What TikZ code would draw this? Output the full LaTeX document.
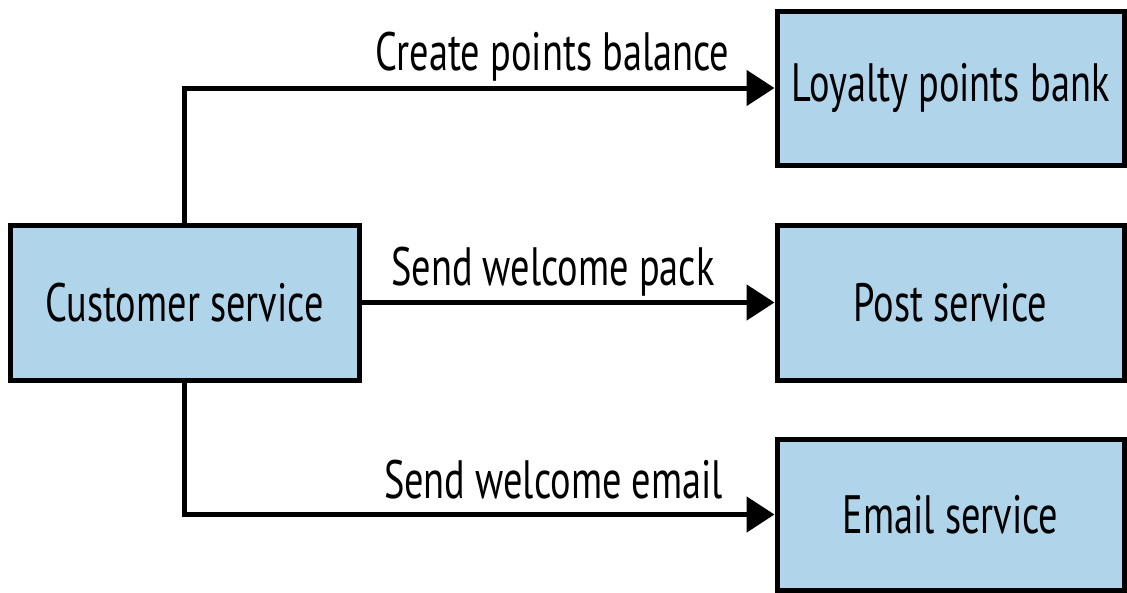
\documentclass[tikz,border=0pt]{standalone}
\usepackage{fontspec}
\setmainfont[FakeStretch=0.71]{PT Sans}
\usetikzlibrary{arrows.meta}
\definecolor{boxblue}{RGB}{176,212,234}
\begin{document}
\begin{tikzpicture}[x=1pt,y=-1pt,
  svc/.style={draw=black,fill=boxblue,line width=5pt,rectangle,inner sep=0pt,
    font=\fontsize{54}{60}\selectfont},
  conn/.style={line width=5pt,-{Triangle[length=28pt,width=35pt]}},
  lbl/.style={anchor=base,inner sep=0pt,font=\fontsize{54}{60}\selectfont}]
\useasboundingbox (0,0) rectangle (1127,592);
\node[svc,minimum width=349pt,minimum height=155pt] (cust) at (184.5,302.5) {Customer service};
\node[svc,minimum width=347pt,minimum height=154pt] (loy) at (950.5,88) {Loyalty points bank};
\node[svc,minimum width=347pt,minimum height=155pt] (post) at (950.5,302.5) {Post service};
\node[svc,minimum width=347pt,minimum height=151pt] (email) at (950.5,514.5) {Email service};
\draw[conn] (cust.north) |- (loy.west);
\draw[conn] (cust.east) -- (post.west);
\draw[conn] (cust.south) |- (email.west);
\node[lbl] (l1) at (552.5,70) {Create points balance};
\node[lbl] (l2) at (553,285) {Send welcome pack};
\node[lbl] (l3) at (553.5,498) {Send welcome email};
\end{tikzpicture}
\end{document}
